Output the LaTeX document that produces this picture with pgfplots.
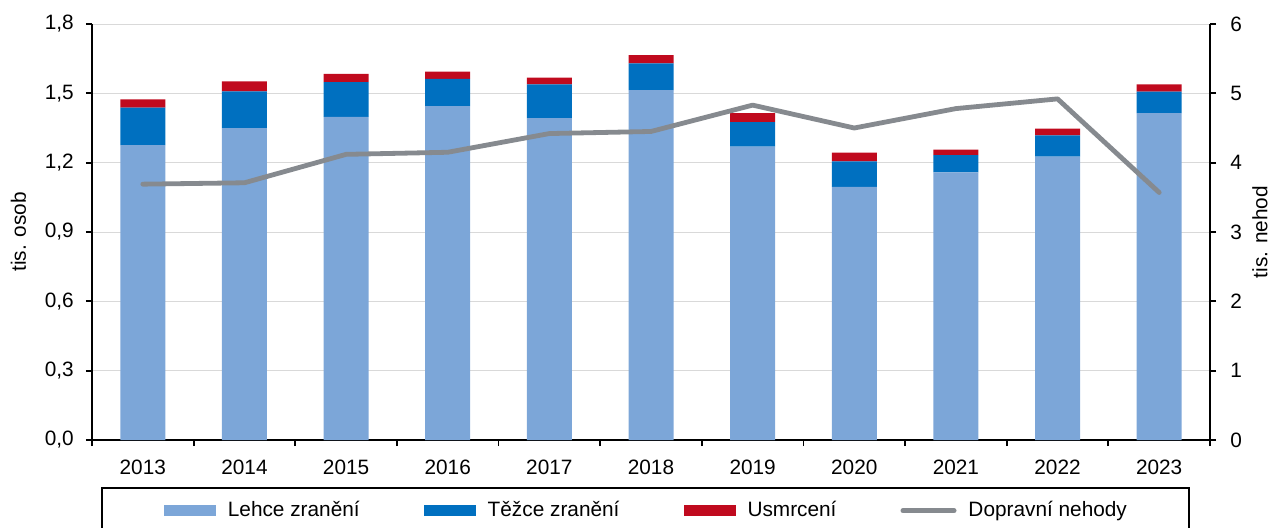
\documentclass[border=0pt]{standalone}
\usepackage{fontspec}
\setmainfont{Liberation Sans}
\usepackage{pgfplots}
\pgfplotsset{compat=1.18}
\definecolor{cLight}{HTML}{7CA6D8}
\definecolor{cBlue}{HTML}{0070C0}
\definecolor{cRed}{HTML}{C00A1E}
\definecolor{cGray}{HTML}{868A8F}
\definecolor{cGrid}{HTML}{D9D9D9}
\pgfplotsset{
  common/.style={
    scale only axis, width=559pt, height=208pt,
    xmin=-0.5, xmax=10.5,
    tick align=outside, major tick length=3pt,
    tick style={black, line width=0.9pt},
    axis line style={-, black, line width=0.9pt},
    scaled y ticks=false,
  },
  barleg/.style={legend image code/.code={\fill[##1] (0pt,-2.75pt) rectangle (26pt,2.75pt);}},
  lineleg/.style={legend image code/.code={\draw[##1] (1.2pt,0pt) -- (26.8pt,0pt);}},
}
\begin{document}
\fontsize{10.4}{12.5}\selectfont
\begin{tikzpicture}
\begin{axis}[
  common,
  ymin=0, ymax=1.8,
  ybar stacked, bar width=22.5pt,
  axis x line*=bottom, axis y line*=left,
  xtick={-0.5,0.5,1.5,2.5,3.5,4.5,5.5,6.5,7.5,8.5,9.5,10.5},
  xticklabels={2013,2014,2015,2016,2017,2018,2019,2020,2021,2022,2023},
  x tick label as interval,
  x tick label style={yshift=-3.5pt},
  ytick={0,0.3,0.6,0.9,1.2,1.5,1.8},
  ymajorgrids, grid style={color=cGrid, line width=0.5pt},
  yticklabel style={/pgf/number format/.cd, fixed, fixed zerofill, precision=1, use comma, assume math mode=true, /tikz/.cd, xshift=-2.5pt},
  ylabel={tis. osob},
  ylabel style={at={(axis description cs:-0.06574,0.5)}, anchor=center},
  legend columns=4,
  legend style={at={(axis description cs:0.4950,0)}, anchor=north, yshift=-23.5pt,
    draw=black, line width=0.8pt, inner xsep=31pt, inner ysep=6.6pt,
    nodes={inner sep=0pt, text depth=0.2em},
    column sep=0pt,
    /tikz/every odd column/.append style={column sep=6pt},
    /tikz/every even column/.append style={column sep=32pt}},
]
\addplot[fill=cLight, draw=none, barleg] coordinates {(0,1.276) (1,1.350) (2,1.398) (3,1.445) (4,1.393) (5,1.514) (6,1.269) (7,1.095) (8,1.158) (9,1.226) (10,1.414)};
\addlegendentry{Lehce zranění}
\addplot[fill=cBlue, draw=none, barleg] coordinates {(0,0.162) (1,0.159) (2,0.150) (3,0.118) (4,0.146) (5,0.116) (6,0.106) (7,0.111) (8,0.075) (9,0.092) (10,0.093)};
\addlegendentry{Těžce zranění}
\addplot[fill=cRed, draw=none, barleg] coordinates {(0,0.036) (1,0.043) (2,0.036) (3,0.031) (4,0.029) (5,0.035) (6,0.039) (7,0.037) (8,0.023) (9,0.029) (10,0.032)};
\addlegendentry{Usmrcení}
\addlegendimage{cGray, line width=2.4pt, line cap=round, lineleg}
\addlegendentry{Dopravní nehody}
\end{axis}
\begin{axis}[
  common,
  ymin=0, ymax=6,
  axis x line=none, axis y line*=right,
  ytick={0,1,2,3,4,5,6},
  yticklabel style={/pgf/number format/assume math mode=true, xshift=3.5pt},
  ylabel={tis. nehod},
  ylabel style={at={(axis description cs:1.04472,0.5)}, anchor=center},
]
\addplot[cGray, line width=2.4pt, line join=round, line cap=round] coordinates {(0,3.69) (1,3.71) (2,4.12) (3,4.15) (4,4.42) (5,4.45) (6,4.83) (7,4.50) (8,4.78) (9,4.92) (10,3.57)};
\end{axis}
\pgfresetboundingbox
\path[use as bounding box] (-46pt,-43.5pt) rectangle (588.5pt,220pt);
\end{tikzpicture}
\end{document}
